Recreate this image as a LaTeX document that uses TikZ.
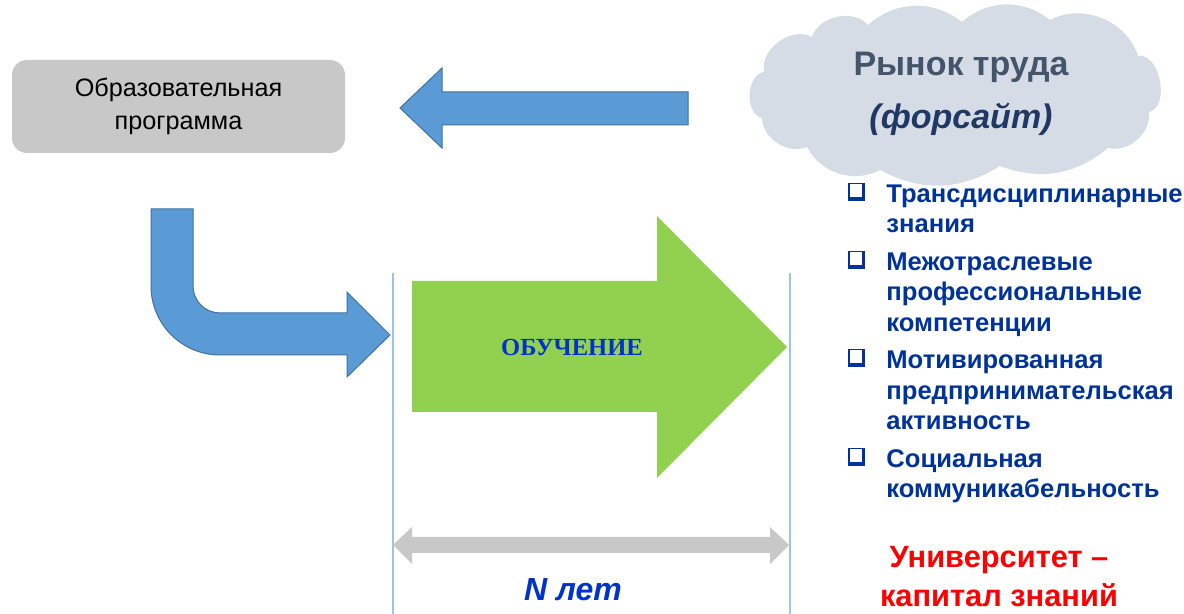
\documentclass[tikz,border=0pt]{standalone}
\usepackage{fontspec}
\setmainfont{Liberation Sans}
\newfontfamily\titleserif{Liberation Serif}
\definecolor{arrowblue}{HTML}{5B9BD5}
\definecolor{arrowedge}{HTML}{41719C}
\definecolor{leafgreen}{HTML}{92D050}
\definecolor{boxgray}{HTML}{C8C8C8}
\definecolor{cloudfill}{HTML}{D6DCE5}
\definecolor{slate}{HTML}{44546A}
\definecolor{navy}{HTML}{1F3864}
\definecolor{listblue}{HTML}{003399}
\definecolor{brightblue}{HTML}{0033CC}
\definecolor{guide}{HTML}{9DC3E6}
\begin{document}
\begin{tikzpicture}[x=0.5pt,y=-0.5pt,
  bluearrow/.style={fill=arrowblue,draw=arrowedge,line width=0.5pt},
  progbox/.style={fill=boxgray,rounded corners=7.5pt,minimum width=166.5pt,
    minimum height=46.5pt,align=center,inner sep=0pt,
    font=\fontsize{12.6}{16.5}\selectfont},
  item/.style={anchor=base west,inner sep=0pt,text=listblue,
    font=\fontsize{12.8}{15}\selectfont\bfseries},
  guideline/.style={guide,line width=0.6pt},
  puff/.style={bend left=#1},
  chk/.pic={\fill[listblue] (-8.5,-9) rectangle (8.5,9);
            \fill[white] (-7,-7.5) rectangle (5,5.5);}]
\useasboundingbox (0,0) rectangle (1184,614);

% programme box
\node[progbox] (prog) at (178.5,106.5) {Образовательная\\программа};

% labour market cloud
\fill[cloudfill] (762,118) to[puff=80] (764,72) to[puff=65] (812,37)
  to[puff=60] (868,25) to[puff=40] (962,22) to[puff=40] (1050,20)
  to[puff=50] (1138,56) to[puff=88] (1149,112) to[puff=55] (1108,148)
  to[puff=30] (1000,166) to[puff=30] (880,170) to[puff=45] (807,147)
  to[puff=55] cycle;
\node[inner sep=0pt,align=center,font=\fontsize{17}{26.5}\selectfont\bfseries]
  (market) at (961,94)
  {\textcolor{slate}{Рынок труда}\\\textcolor{navy}{\itshape(форсайт)}};

% feedback arrow from the market to the programme
\path[bluearrow] (688,92) -- (442,92) -- (442,68) -- (400,108) -- (442,148)
  -- (442,125) -- (688,125) -- cycle;

% bent arrow from the programme into training
\path[bluearrow] (151,209) -- (193,209) -- (193,286)
  .. controls (193,300.9) and (205.1,313) .. (220,313) -- (347,313)
  -- (347,292) -- (390,335) -- (347,377) -- (347,355) -- (220,355)
  .. controls (181.9,355) and (151,324.1) .. (151,286) -- cycle;

% guide lines bounding the training period
\draw[guideline] (393,273) -- (393,614);
\draw[guideline] (790,273) -- (790,614);

% training arrow
\fill[leafgreen] (412,281) -- (657,281) -- (657,216) -- (787,347)
  -- (657,478) -- (657,412) -- (412,412) -- cycle;
\node[font=\titleserif\fontsize{12.3}{15}\selectfont\bfseries,text=brightblue]
  (train) at (572,347) {ОБУЧЕНИЕ};

% duration arrow
\fill[boxgray] (393,545) -- (412,527) -- (412,537) -- (770,537) -- (770,527)
  -- (789,545) -- (770,564) -- (770,553) -- (412,553) -- (412,564) -- cycle;
\node[font=\fontsize{16}{19}\selectfont\bfseries\itshape,text=brightblue]
  (years) at (573,590) {N лет};

% competences list
\pic at (856.5,192) {chk};
\pic at (856.5,260) {chk};
\pic at (856.5,358) {chk};
\pic at (856.5,457) {chk};
\node[item] (i1) at (886,203) {Трансдисциплинарные};
\node[item] (i2) at (886,233) {знания};
\node[item] (i3) at (886,271) {Межотраслевые};
\node[item] (i4) at (886,301) {профессиональные};
\node[item] (i5) at (886,332) {компетенции};
\node[item] (i6) at (886,369) {Мотивированная};
\node[item] (i7) at (886,400) {предпринимательская};
\node[item] (i8) at (886,430) {активность};
\node[item] (i9) at (886,468) {Социальная};
\node[item] (i10) at (886,498) {коммуникабельность};

% conclusion
\node[align=center,text=red,font=\fontsize{15.4}{19.5}\selectfont\bfseries]
  (uni) at (999,577) {Университет –\\капитал знаний};
\end{tikzpicture}
\end{document}
